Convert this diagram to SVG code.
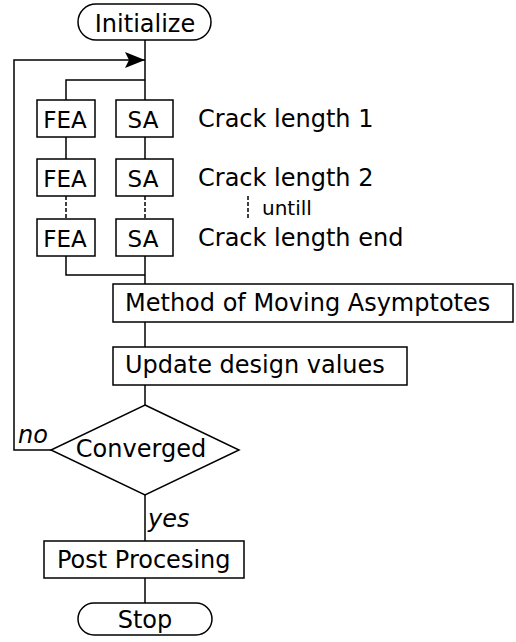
<svg xmlns="http://www.w3.org/2000/svg" width="516" height="642" viewBox="0 0 516 642">
  <style>
    .box { fill: #fff; stroke: #000; stroke-width: 1.5; }
    .line { fill: none; stroke: #000; stroke-width: 1.5; }
    .dash { fill: none; stroke: #000; stroke-width: 1.5; stroke-dasharray: 4 2; }
    text { font-family: "DejaVu Sans", "Liberation Sans", sans-serif; font-size: 24px; fill: #000; }
    .mid { text-anchor: middle; }
    .small { font-size: 20px; }
    .cell { font-size: 23px; }
    .it { font-style: italic; }
  </style>
  <defs>
    <marker id="arrow" markerWidth="20" markerHeight="16" refX="20" refY="8" orient="auto" markerUnits="userSpaceOnUse">
      <path d="M0,0 L20,8 L0,16 L4,8 Z" fill="#000"/>
    </marker>
  </defs>

  <rect width="516" height="642" fill="#fff"/>

  <!-- connectors -->
  <g id="connectors">
    <path class="line" d="M145,40 V100"/>
    <path class="line" d="M145,80 H66 V100"/>
    <path class="line" d="M66,137 V159"/>
    <path class="line" d="M145,137 V159"/>
    <path class="dash" d="M66,196 V219"/>
    <path class="dash" d="M145,196 V219"/>
    <path class="line" d="M66,256 V275 H145"/>
    <path class="line" d="M145,256 V284"/>
    <path class="line" d="M145,322 V347"/>
    <path class="line" d="M145,385 V405"/>
    <path class="line" d="M145,495 V541"/>
    <path class="line" d="M145,578 V603"/>
    <path class="line" d="M51,450 H14 V60 H145" marker-end="url(#arrow)"/>
    <path class="dash" d="M248,196 V219"/>
    <text x="18" y="443" class="it">no</text>
    <text x="148" y="527" class="it">yes</text>
  </g>

  <g id="initialize">
    <rect class="box" x="78" y="4" width="133" height="36" rx="18" ry="18"/>
    <text x="145" y="32" class="mid">Initialize</text>
  </g>

  <g id="fea1">
    <rect class="box" x="37" y="100" width="58" height="37"/>
    <text x="65" y="127.5" class="mid cell">FEA</text>
  </g>
  <g id="sa1">
    <rect class="box" x="116" y="100" width="57" height="37"/>
    <text x="143" y="127.5" class="mid cell">SA</text>
  </g>
  <g id="fea2">
    <rect class="box" x="37" y="159" width="58" height="37"/>
    <text x="65" y="186.5" class="mid cell">FEA</text>
  </g>
  <g id="sa2">
    <rect class="box" x="116" y="159" width="57" height="37"/>
    <text x="143" y="186.5" class="mid cell">SA</text>
  </g>
  <g id="fea3">
    <rect class="box" x="37" y="219" width="58" height="37"/>
    <text x="65" y="246.5" class="mid cell">FEA</text>
  </g>
  <g id="sa3">
    <rect class="box" x="116" y="219" width="57" height="37"/>
    <text x="143" y="246.5" class="mid cell">SA</text>
  </g>

  <g id="crack-labels">
    <text x="198" y="127">Crack length 1</text>
    <text x="198" y="186">Crack length 2</text>
    <text x="262" y="215" class="small">untill</text>
    <text x="198" y="246">Crack length end</text>
  </g>

  <g id="mma">
    <rect class="box" x="113" y="284" width="400" height="38"/>
    <text x="125" y="311">Method of Moving Asymptotes</text>
  </g>

  <g id="update">
    <rect class="box" x="113" y="347" width="294" height="38"/>
    <text x="125" y="373">Update design values</text>
  </g>

  <g id="converged">
    <polygon class="box" points="145,405 239,450 145,495 51,450"/>
    <text x="141" y="457" class="mid">Converged</text>
  </g>

  <g id="post">
    <rect class="box" x="44" y="541" width="200" height="37"/>
    <text x="57" y="568">Post Procesing</text>
  </g>

  <g id="stop">
    <rect class="box" x="78" y="603" width="134" height="32" rx="16" ry="16"/>
    <text x="145" y="628" class="mid">Stop</text>
  </g>
</svg>
